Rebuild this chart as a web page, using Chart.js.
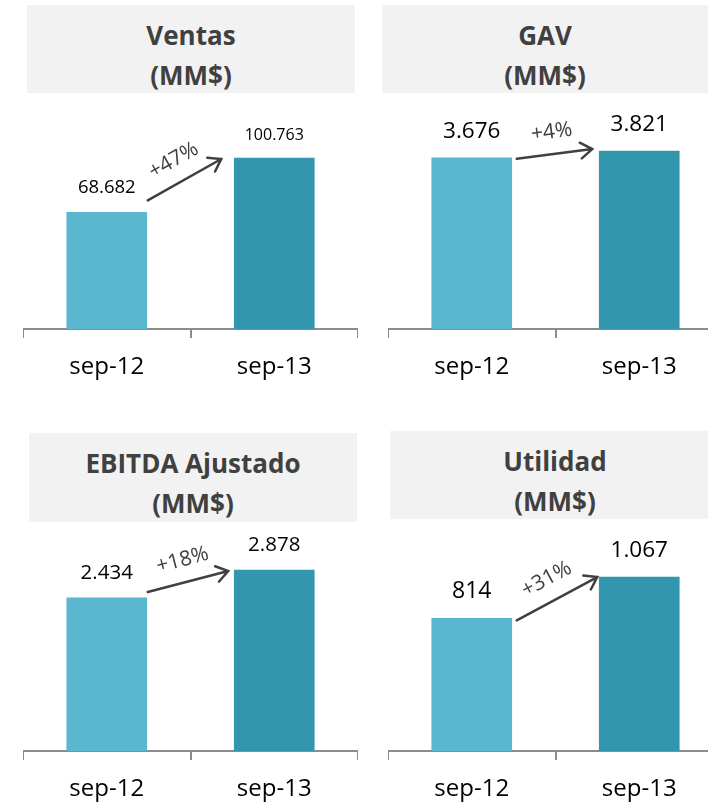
<!DOCTYPE html>
<html>
<head>
<meta charset="utf-8">
<script src="https://cdn.jsdelivr.net/npm/chart.js@4.4.0/dist/chart.umd.min.js"></script>
<style>
    html, body { margin: 0; padding: 0; width: 708px; height: 805px; overflow: hidden; background: #fff; }
    .title {
        position: absolute; box-sizing: border-box; background: #f2f2f2; color: #404040;
        font: bold 26px 'Open Sans', sans-serif; line-height: 40px; text-align: center;
        padding-top: 10px; white-space: nowrap;
    }
    canvas { position: absolute; }
</style>
</head>
<body>
<div class="title" id="t0" style="left:27px;top:5px;width:328px;height:88px;"></div>
<div class="title" id="t1" style="left:382px;top:5px;width:326px;height:88px;"></div>
<div class="title" id="t2" style="left:29px;top:433px;width:328px;height:89px;"></div>
<div class="title" id="t3" style="left:390px;top:431px;width:330px;height:88px;"></div>

<canvas id="c0" width="335" height="289" style="left:23px;top:100px;width:335px;height:289px;"></canvas>
<canvas id="c1" width="335" height="289" style="left:388px;top:100px;width:335px;height:289px;"></canvas>
<canvas id="c2" width="335" height="283" style="left:23px;top:528px;width:335px;height:283px;"></canvas>
<canvas id="c3" width="335" height="283" style="left:388px;top:528px;width:335px;height:283px;"></canvas>

<script>
// data
const periods = ['sep-12', 'sep-13'];
const titles = [['Ventas', '(MM$)'], ['GAV', '(MM$)'], ['EBITDA Ajustado', '(MM$)'], ['Utilidad', '(MM$)']];
const ventas = [68682, 100763];
const gav = [3676, 3821];
const ebitda = [2434, 2878];
const utilidad = [814, 1067];
const growth = ['+47%', '+4%', '+18%', '+31%'];

const series = [ventas, gav, ebitda, utilidad];

// layout per panel: headroom above tallest bar, value font sizes, arrow offsets
const headroom = [1.339, 1.287, 1.232, 1.282];
const valueFont = [[18.5, 16], [22.5, 22.5], [20.5, 20.5], [23, 22.5]];
const arrowOffsets = [
    { sx: 1, sy: -12, ex: 13, ey: 1 },
    { sx: 5, sy: 1, ex: 7, ey: -2 },
    { sx: 1, sy: -6, ex: 6, ey: 1 },
    { sx: 5, sy: 2, ex: 2, ey: 0 }
];

const barColors = ['#5bb7d0', '#3196ae'];

function fmt(v) {
    return String(v).replace(/\B(?=(\d{3})+(?!\d))/g, '.');
}

// value labels + growth arrow
const decorPlugin = {
    id: 'decor',
    afterDatasetsDraw(chart) {
        const i = chart.options.plugins.decor.panel;
        const ctx = chart.ctx;
        const bars = chart.getDatasetMeta(0).data;
        ctx.save();
        ctx.fillStyle = '#000';
        ctx.textAlign = 'center';
        ctx.textBaseline = 'middle';
        bars.forEach((b, j) => {
            const fs = valueFont[i][j];
            ctx.font = fs + 'px "Open Sans"';
            ctx.fillText(fmt(series[i][j]), b.x, b.y - (fs / 2 + 15));
        });

        const o = arrowOffsets[i];
        const x1 = bars[0].x + bars[0].width / 2 + o.sx, y1 = bars[0].y + o.sy;
        const x2 = bars[1].x - bars[1].width / 2 - o.ex, y2 = bars[1].y + o.ey;
        const ang = Math.atan2(y2 - y1, x2 - x1);
        ctx.strokeStyle = '#404040';
        ctx.lineWidth = 2.5;
        ctx.lineCap = 'round';
        ctx.beginPath();
        ctx.moveTo(x1, y1);
        ctx.lineTo(x2, y2);
        const head = 14, spread = 0.6;
        ctx.moveTo(x2 - head * Math.cos(ang - spread), y2 - head * Math.sin(ang - spread));
        ctx.lineTo(x2, y2);
        ctx.lineTo(x2 - head * Math.cos(ang + spread), y2 - head * Math.sin(ang + spread));
        ctx.stroke();

        const mx = (x1 + x2) / 2, my = (y1 + y2) / 2;
        const d = 22;
        ctx.translate(mx + d * Math.sin(ang), my - d * Math.cos(ang));
        ctx.rotate(ang);
        ctx.fillStyle = '#404040';
        ctx.font = '21px "Open Sans"';
        ctx.fillText(growth[i], 0, 0);
        ctx.restore();
    }
};

series.forEach((values, i) => {
    document.getElementById('t' + i).innerHTML = titles[i].join('<br>');

    new Chart(document.getElementById('c' + i), {
        type: 'bar',
        data: {
            labels: periods,
            datasets: [{
                data: values,
                backgroundColor: barColors,
                barThickness: 80
            }]
        },
        options: {
            responsive: false,
            animation: false,
            layout: { padding: 0 },
            plugins: {
                legend: { display: false },
                tooltip: { enabled: false },
                decor: { panel: i }
            },
            scales: {
                x: {
                    grid: {
                        offset: true,
                        drawOnChartArea: false,
                        drawTicks: true,
                        tickLength: 9,
                        color: '#8c8c8c',
                        lineWidth: 2
                    },
                    border: { display: true, color: '#8c8c8c', width: 2 },
                    ticks: {
                        color: '#000',
                        padding: 15,
                        font: { family: 'Open Sans', size: 24 }
                    },
                    afterFit: s => { s.height = 60; }
                },
                y: {
                    display: false,
                    min: 0,
                    max: Math.max(...values) * headroom[i]
                }
            }
        },
        plugins: [decorPlugin]
    });
});
</script>
</body>
</html>
